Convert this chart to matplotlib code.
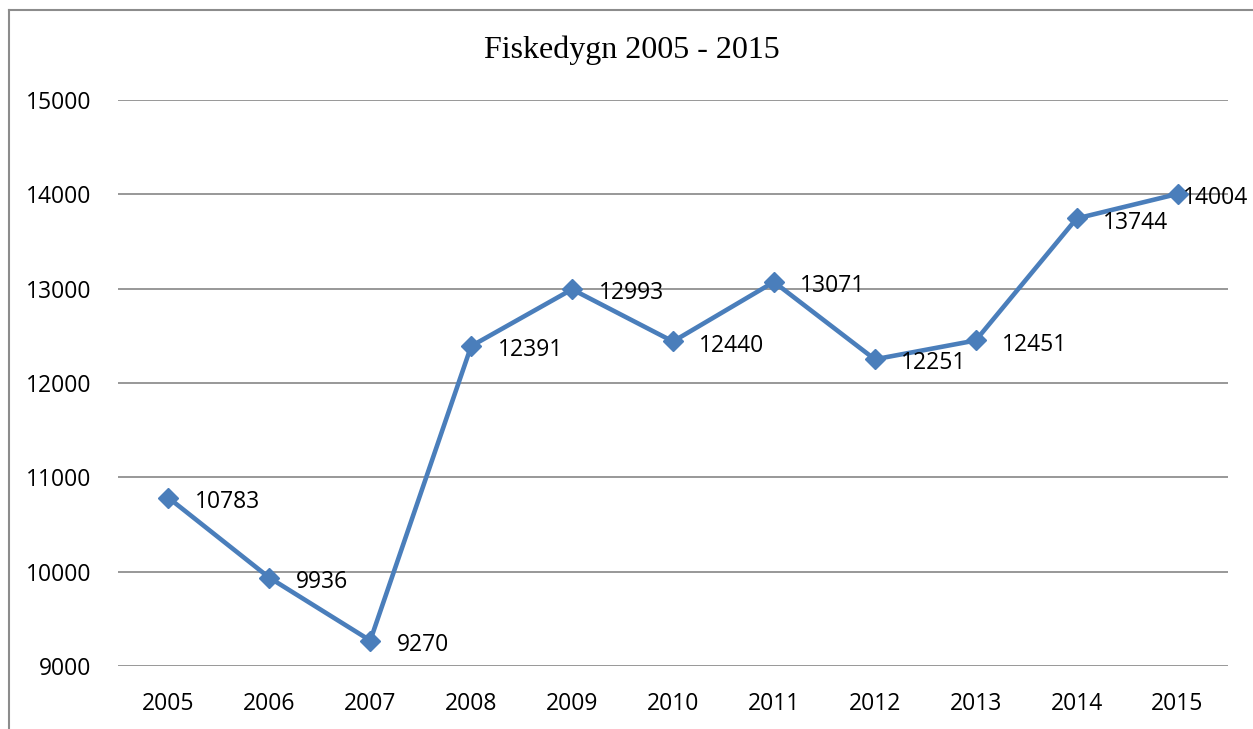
import matplotlib.pyplot as plt
from matplotlib.lines import Line2D

years = ['2005', '2006', '2007', '2008', '2009', '2010',
         '2011', '2012', '2013', '2014', '2015']
fiskedygn = [10783, 9936, 9270, 12391, 12993, 12440,
             13071, 12251, 12451, 13744, 14004]
y_ticks = [9000, 10000, 11000, 12000, 13000, 14000, 15000]

W, H = 1253, 729
fig = plt.figure(figsize=(W / 100, H / 100), dpi=100)
ax = fig.add_axes([118 / W, 1 - 666 / H, 1110 / W, 566 / H])

x = list(range(len(years)))
ax.plot(x, fiskedygn, color='#4a7ebb', lw=3.3, marker='D', markersize=10.5,
        solid_joinstyle='miter', zorder=3)

for i, v in enumerate(fiskedygn):
    dx = 4 if i == len(fiskedygn) - 1 else 19
    ax.annotate(str(v), (i, v), xytext=(dx, -3), textcoords='offset points',
                ha='left', va='center', fontsize=16.5, family='Open Sans', zorder=4)

ax.set_xlim(-0.5, len(years) - 0.5)
ax.set_ylim(9000, 15000)
ax.set_yticks(y_ticks)
ax.set_yticklabels([str(t) for t in y_ticks], family='Open Sans', fontsize=16.5)
ax.set_xticks(x)
ax.set_xticklabels(years, family='Open Sans', fontsize=16.5)
ax.tick_params(length=0)
ax.tick_params(axis='y', pad=19)
ax.tick_params(axis='x', pad=19)
ax.yaxis.grid(True, color='#868686', lw=1.2)
ax.set_axisbelow(True)
for s in ax.spines.values():
    s.set_visible(False)

fig.text(632 / W, 1 - 50 / H, 'Fiskedygn 2005 - 2015', family='Liberation Serif',
         fontsize=23, ha='center', va='center')

# outer chart frame (only left and top edges are visible)
fig.add_artist(Line2D([9 / W, 9 / W], [0, 1 - 10 / H], transform=fig.transFigure,
                      color='#8c8c8c', lw=1.5))
fig.add_artist(Line2D([9 / W, 1], [1 - 10 / H, 1 - 10 / H], transform=fig.transFigure,
                      color='#8c8c8c', lw=1.5))

fig.savefig('out.png', dpi=100)
